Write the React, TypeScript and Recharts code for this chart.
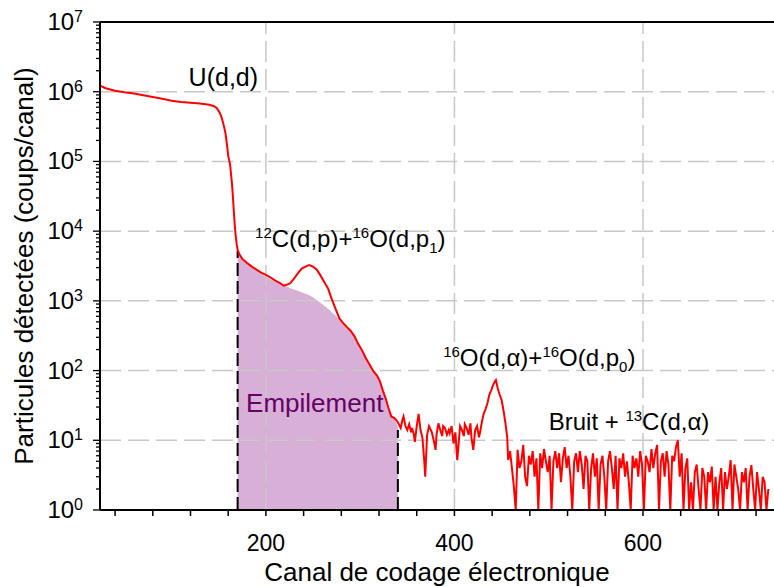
import React from 'react';
import { ComposedChart, Line, Area, XAxis, YAxis, ReferenceLine, ReferenceDot, Label } from 'recharts';

const FONT = '"Liberation Sans", Arial, Helvetica, sans-serif';

// U(d,d) plateau, the falling edge and the 12C/16O(d,p) bump
const mainChannels = [
  24, 30, 40, 50, 60, 70, 80, 90, 100, 110, 120, 130, 140, 145, 148, 151, 153, 155, 157, 159,
  160, 162, 164, 165, 166, 167, 168, 169, 170, 172, 175, 180, 185, 190, 195, 200, 205, 210, 215, 219,
  222, 226, 230, 234, 238, 242, 246, 250, 254, 258, 262, 266, 270, 274, 278, 282, 286, 290, 294, 298,
  302, 306, 310, 314, 318, 321, 324, 327, 330, 333, 336, 339, 342,
];
const mainCounts = [
  1.22e6, 1.12e6, 1.03e6, 9.8e5, 9.4e5, 8.9e5, 8.4e5, 7.9e5, 7.4e5, 7.1e5, 6.95e5, 6.75e5, 6.5e5, 6.2e5, 5.8e5, 5.0e5, 4.3e5, 3.4e5, 2.6e5, 1.6e5,
  1.2e5, 9.0e4, 4.8e4, 3.1e4, 1.9e4, 1.2e4, 8.5e3, 6.5e3, 5.4e3, 4.6e3, 4.0e3, 3.5e3, 3.1e3, 2.8e3, 2.55e3, 2.35e3, 2.15e3, 1.95e3, 1.8e3, 1.65e3,
  1.7e3, 1.8e3, 2.1e3, 2.5e3, 2.9e3, 3.1e3, 3.25e3, 3.1e3, 2.8e3, 2.3e3, 1.85e3, 1.5e3, 1.05e3, 760, 560, 480, 420, 370, 310, 240,
  195, 150, 122, 98, 84, 70, 52, 40, 29, 22, 21, 19, 16,
];

// flat region and the 16O(d,alpha)+16O(d,p0) peak
const peakChannels = [
  343, 345, 346, 348, 350, 352, 354, 355, 357, 358, 360, 362, 364, 366, 368, 369, 371, 373, 375, 376,
  378, 380, 381, 383, 385, 387, 388, 390, 392, 394, 395, 397, 399, 401, 403, 405, 406, 408, 410, 411,
  413, 415, 417, 418, 420, 422, 424, 426, 427, 429, 431, 433, 435, 437, 439, 441, 443, 444, 446, 448,
  450, 452, 454, 456, 457, 459, 461, 463, 465, 467, 469, 471, 473, 475, 477,
];
const peakCounts = [
  15, 20, 22, 16, 14, 17, 13, 15, 12, 9.5, 16, 24, 14, 11, 5, 3, 12, 16, 14, 13,
  10, 7.3, 12, 17.5, 14, 11.5, 16, 15, 12, 14, 12.6, 16, 9, 13, 5.2, 11, 16, 14, 11.5, 17,
  15, 12, 17.5, 11, 7.3, 14, 16, 11, 12.6, 18, 24, 28, 34, 45, 52, 62, 70, 73, 55, 45,
  38, 27, 18, 11, 5.2, 7, 4, 2.2, 1, 7.3, 4, 5, 8.6, 3, 2.2,
];

// noise + 13C(d,alpha) tail, one value every 2 channels from channel 479
const tailStart = 479;
const tailStep = 2;
const tailCounts = [
  6, 4.5, 7, 3, 5.5, 1, 6.5, 4, 7.5, 5,
  3.5, 6, 1, 5, 7, 4, 6.5, 2.5, 5.5, 8,
  4, 6, 3, 1, 5, 6.5, 3.5, 7, 4.5, 2,
  6, 5, 1, 4, 6.5, 3, 5.5, 1, 4.5, 6,
  3, 1, 5, 7, 4, 2, 6, 1, 5.5, 4,
  6.5, 3, 5, 2.5, 1, 6, 4, 5.5, 3, 7,
  4.5, 1, 6, 5, 3.5, 7.5, 4, 6.5, 8.6, 1,
  5, 6.5, 3, 7, 4.5, 1, 6, 5, 8, 10,
  3, 6.5, 1, 4, 5.5, 1, 2.5, 1, 3.5, 4.5,
  2, 1, 4, 3, 1, 3.5, 2.5, 4.2, 1, 3,
  1, 2.5, 4, 1, 3.5, 2, 3, 5.2, 1, 4.5,
  3, 2, 1, 3.5, 2.5, 4, 1, 3, 4.4, 2,
  1, 3.5, 2, 1, 3, 2.5, 1, 2,
];

// estimated pile-up contribution
const pileChannels = [
  170, 172, 176, 180, 186, 192, 198, 204, 210, 216, 220, 226, 232, 238, 244, 250, 256, 262, 268, 274,
  280, 284, 288, 292, 296, 300, 304, 308, 312, 316, 320, 324, 328, 332, 336, 340,
];
const pileCounts = [
  5200, 4500, 3900, 3500, 3000, 2650, 2300, 2050, 1880, 1740, 1650, 1520, 1420, 1330, 1230, 1120, 980, 850, 730, 610,
  510, 450, 400, 345, 280, 220, 185, 140, 110, 92, 76, 55, 38, 24, 21, 15,
];

const pileLeft = { ch: 170, top: 5200 };
const pileRight = { ch: 340, top: 14 };

const xTicks = [40, 80, 120, 160, 200, 240, 280, 320, 360, 400, 440, 480, 520, 560, 600, 640, 680, 720];
const xLabels = [200, 400, 600];
const xGrid = [200, 400, 600];
const yDecades = [1, 10, 100, 1000, 1e4, 1e5, 1e6, 1e7];
const yMinorSteps = [2, 3, 4, 5, 6, 7, 8, 9];

const spectrum = [
  ...mainChannels.map((ch, i) => ({ ch, count: mainCounts[i] })),
  ...peakChannels.map((ch, i) => ({ ch, count: peakCounts[i] })),
  ...tailCounts.map((count, i) => ({ ch: tailStart + i * tailStep, count })),
];
const pileUp = pileChannels.map((ch, i) => ({ ch, count: pileCounts[i] }));

const yTicks: number[] = [];
yDecades.forEach((d, i) => {
  yTicks.push(d);
  if (i < yDecades.length - 1) yMinorSteps.forEach((m) => yTicks.push(d * m));
});

const XTick = (props: any) => {
  const { x, y, payload } = props;
  const labelled = xLabels.includes(payload.value);
  return (
    <g>
      <line x1={x} x2={x} y1={y} y2={y + 6} stroke="#000" strokeWidth={1.5} />
      {labelled && (
        <text x={x} y={y + 41} textAnchor="middle" fontFamily={FONT} fontSize={23} fill="#000">
          {payload.value}
        </text>
      )}
    </g>
  );
};

const YTick = (props: any) => {
  const { x, y, payload } = props;
  const v = payload.value;
  const exp = Math.round(Math.log10(v));
  const major = Math.abs(v - Math.pow(10, exp)) < v * 1e-6;
  return (
    <g>
      <line x1={x - (major ? 7 : 4)} x2={x} y1={y} y2={y} stroke="#000" strokeWidth={1.3} />
      {major && (
        <text x={x - 17} y={y + 8} textAnchor="end" fontFamily={FONT} fontSize={24} fill="#000">
          10
          <tspan dy={-8} fontSize={16}>{exp}</tspan>
        </text>
      )}
    </g>
  );
};

type Part = { t: string; sup?: boolean; sub?: boolean };

// text with super/subscripts, anchored at a data point (baseline-left)
const Note = ({ viewBox, parts, size = 24, color = '#000' }: any) => {
  const small = Math.round(size * 0.62);
  let shift = 0;
  const spans = (parts as Part[]).map((p, i) => {
    const target = p.sup ? -9 : p.sub ? 6 : 0;
    const dy = target - shift;
    shift = target;
    return (
      <tspan key={i} dy={dy} fontSize={p.sup || p.sub ? small : size}>
        {p.t}
      </tspan>
    );
  });
  return (
    <text x={viewBox.x} y={viewBox.y} fontFamily={FONT} fontSize={size} fill={color}>
      {spans}
    </text>
  );
};

const notes: { ch: number; count: number; parts: Part[]; size?: number; color?: string }[] = [
  { ch: 118, count: 1.21e6, parts: [{ t: 'U(d,d)' }], size: 25 },
  {
    ch: 188.5,
    count: 6.0e3,
    parts: [{ t: '12', sup: true }, { t: 'C(d,p)+' }, { t: '16', sup: true }, { t: 'O(d,p' }, { t: '1', sub: true }, { t: ')' }],
  },
  {
    ch: 388,
    count: 116,
    parts: [{ t: '16', sup: true }, { t: 'O(d,α)+' }, { t: '16', sup: true }, { t: 'O(d,p' }, { t: '0', sub: true }, { t: ')' }],
  },
  { ch: 500, count: 14, parts: [{ t: 'Bruit + ' }, { t: '13', sup: true }, { t: 'C(d,α)' }] },
  { ch: 179, count: 25.5, parts: [{ t: 'Empilement' }], size: 26, color: '#660066' },
];

const gridStyle = { stroke: '#c8c8c8', strokeWidth: 1.5, strokeDasharray: '21 7' };

export default function App() {
  return (
    <div style={{ position: 'absolute', left: 0, top: 0, width: 774, height: 587, background: '#fff' }}>
      <ComposedChart width={774} height={587} margin={{ top: 22, right: 0, bottom: 37, left: 20 }}>
        <XAxis
          dataKey="ch"
          type="number"
          domain={[24, 739]}
          allowDataOverflow
          ticks={xTicks}
          interval={0}
          tick={<XTick />}
          tickLine={false}
          tickSize={0}
          tickMargin={0}
          height={40}
          axisLine={{ stroke: '#000', strokeWidth: 2 }}
        >
          <Label
            content={({ viewBox }: any) => (
              <text
                x={viewBox.x + viewBox.width / 2}
                y={viewBox.y + 71}
                textAnchor="middle"
                fontFamily={FONT}
                fontSize={26}
                fill="#000"
              >
                Canal de codage électronique
              </text>
            )}
          />
        </XAxis>
        <YAxis
          dataKey="count"
          type="number"
          scale="log"
          domain={[1, 1e7]}
          allowDataOverflow
          ticks={yTicks}
          interval={0}
          tick={<YTick />}
          tickLine={false}
          tickSize={0}
          tickMargin={0}
          width={80}
          axisLine={{ stroke: '#000', strokeWidth: 2 }}
        >
          <Label
            content={({ viewBox }: any) => {
              const cx = viewBox.x + 13;
              const cy = viewBox.y + viewBox.height / 2;
              return (
                <text
                  x={cx}
                  y={cy}
                  transform={`rotate(-90 ${cx} ${cy})`}
                  textAnchor="middle"
                  fontFamily={FONT}
                  fontSize={26}
                  fill="#000"
                >
                  Particules détectées (coups/canal)
                </text>
              );
            }}
          />
        </YAxis>

        {yDecades.slice(1, -1).map((v) => (
          <ReferenceLine key={'gy' + v} y={v} {...gridStyle} />
        ))}
        {xGrid.map((v) => (
          <ReferenceLine key={'gx' + v} x={v} {...gridStyle} />
        ))}
        <ReferenceLine y={1e7} stroke="#000" strokeWidth={2} />

        <Area
          data={pileUp}
          dataKey="count"
          type="monotone"
          baseValue={1}
          stroke="none"
          fill="#9b379b"
          fillOpacity={0.4}
          isAnimationActive={false}
        />
        <ReferenceLine
          segment={[{ x: pileLeft.ch, y: 1 }, { x: pileLeft.ch, y: pileLeft.top }]}
          stroke="#000"
          strokeWidth={2}
          strokeDasharray="13 5"
        />
        <ReferenceLine
          segment={[{ x: pileRight.ch, y: 1 }, { x: pileRight.ch, y: pileRight.top }]}
          stroke="#000"
          strokeWidth={2}
          strokeDasharray="13 5"
        />
        <Line
          data={spectrum}
          dataKey="count"
          type="linear"
          stroke="#ff0000"
          strokeWidth={2}
          dot={false}
          activeDot={false}
          isAnimationActive={false}
        />

        {notes.map((n, i) => (
          <ReferenceDot
            key={'n' + i}
            x={n.ch}
            y={n.count}
            r={0}
            fill="none"
            stroke="none"
            label={<Note parts={n.parts} size={n.size ?? 24} color={n.color ?? '#000'} />}
          />
        ))}
      </ComposedChart>
    </div>
  );
}
